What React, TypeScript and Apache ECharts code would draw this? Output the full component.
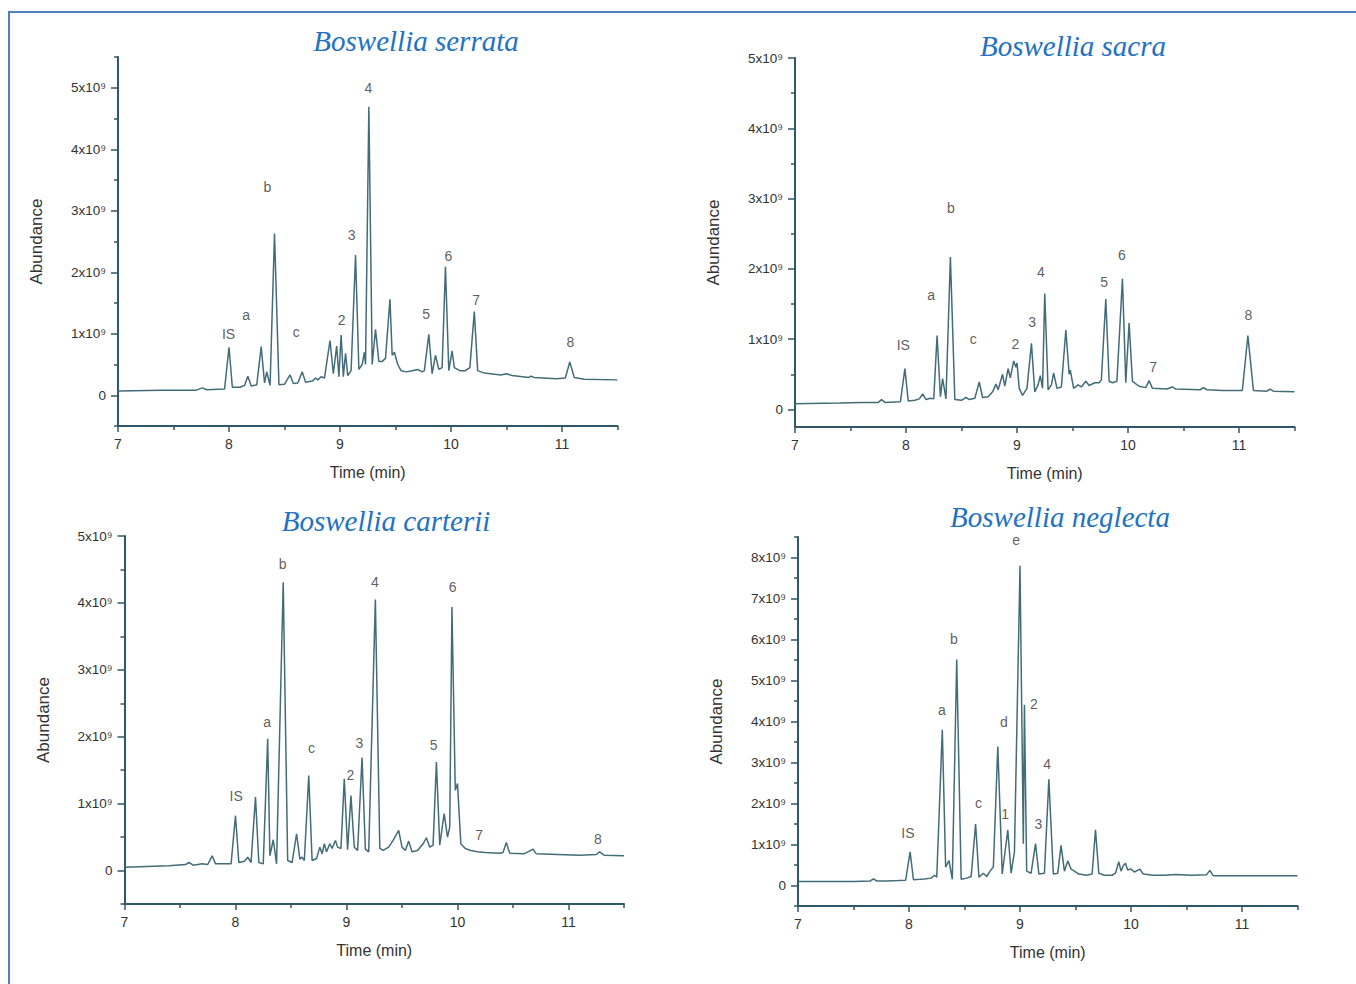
import React, { useEffect, useRef } from "react";
import * as echarts from "echarts";

// ---------- DATA (time in min, abundance in units of 10^9) ----------
const titles = ["Boswellia serrata", "Boswellia sacra", "Boswellia carterii", "Boswellia neglecta"];

const xMajor = [7, 8, 9, 10, 11];
const xMinor = [7.5, 8.5, 9.5, 10.5, 11.5];

const yMajorA = [0, 1, 2, 3, 4, 5];
const yMinorSerrata = [-0.5, 0.5, 1.5, 2.5, 3.5, 4.5, 5.5];
const yMinorSacra = [0.5, 1.5, 2.5, 3.5, 4.5];
const yMinorCarterii = [-0.5, 0.5, 1.5, 2.5, 3.5, 4.5];
const yMajorNeglecta = [0, 1, 2, 3, 4, 5, 6, 7, 8];
const yMinorNeglecta = [-0.5, 0.5, 1.5, 2.5, 3.5, 4.5, 5.5, 6.5, 7.5, 8.5];

const traceSerrata = [
  [7.0, 0.07], [7.4, 0.08], [7.7, 0.08], [7.76, 0.12], [7.8, 0.09], [7.96, 0.1], [8.0, 0.78], [8.03, 0.13],
  [8.1, 0.13], [8.14, 0.16], [8.17, 0.31], [8.2, 0.15], [8.25, 0.17], [8.29, 0.79], [8.32, 0.2], [8.34, 0.38],
  [8.37, 0.16], [8.41, 2.63], [8.45, 0.17], [8.5, 0.18], [8.55, 0.33], [8.58, 0.19], [8.62, 0.2], [8.66, 0.38],
  [8.69, 0.21], [8.75, 0.23], [8.78, 0.28], [8.8, 0.25], [8.83, 0.3], [8.86, 0.28], [8.91, 0.89], [8.94, 0.35],
  [8.97, 0.8], [8.99, 0.3], [9.01, 0.98], [9.03, 0.3], [9.05, 0.68], [9.07, 0.32], [9.1, 0.4], [9.14, 2.28],
  [9.17, 0.42], [9.2, 0.5], [9.22, 0.7], [9.23, 0.5], [9.26, 4.69], [9.29, 0.5], [9.32, 1.07], [9.35, 0.55],
  [9.38, 0.55], [9.41, 0.6], [9.45, 1.56], [9.47, 0.65], [9.49, 0.7], [9.52, 0.5], [9.55, 0.4], [9.6, 0.38],
  [9.65, 0.4], [9.7, 0.42], [9.74, 0.38], [9.76, 0.4], [9.8, 0.99], [9.83, 0.35], [9.86, 0.65], [9.89, 0.42],
  [9.92, 0.45], [9.95, 2.09], [9.98, 0.4], [10.01, 0.72], [10.03, 0.45], [10.08, 0.4], [10.13, 0.4], [10.17, 0.45],
  [10.21, 1.36], [10.24, 0.4], [10.3, 0.36], [10.45, 0.33], [10.5, 0.35], [10.55, 0.32], [10.7, 0.29], [10.72, 0.31],
  [10.75, 0.29], [10.95, 0.27], [11.03, 0.28], [11.07, 0.54], [11.11, 0.29], [11.2, 0.26], [11.5, 0.25],
];

const traceSacra = [
  [7.0, 0.08], [7.4, 0.09], [7.6, 0.1], [7.75, 0.1], [7.78, 0.14], [7.81, 0.1], [7.95, 0.11], [7.99, 0.58],
  [8.02, 0.12], [8.08, 0.13], [8.12, 0.15], [8.15, 0.22], [8.18, 0.14], [8.22, 0.16], [8.25, 0.15], [8.28, 1.05],
  [8.31, 0.18], [8.33, 0.44], [8.36, 0.15], [8.4, 2.17], [8.44, 0.14], [8.5, 0.13], [8.54, 0.17], [8.57, 0.14],
  [8.62, 0.16], [8.66, 0.39], [8.69, 0.17], [8.74, 0.18], [8.78, 0.25], [8.81, 0.36], [8.83, 0.28], [8.87, 0.5],
  [8.89, 0.33], [8.92, 0.58], [8.94, 0.45], [8.97, 0.69], [8.99, 0.6], [9.0, 0.66], [9.02, 0.3], [9.05, 0.2],
  [9.09, 0.3], [9.13, 0.94], [9.16, 0.25], [9.19, 0.35], [9.21, 0.48], [9.23, 0.3], [9.25, 1.65], [9.28, 0.28],
  [9.31, 0.35], [9.33, 0.52], [9.36, 0.3], [9.4, 0.32], [9.44, 1.13], [9.47, 0.5], [9.48, 0.56], [9.51, 0.3],
  [9.55, 0.35], [9.58, 0.32], [9.62, 0.4], [9.65, 0.34], [9.7, 0.38], [9.74, 0.38], [9.76, 0.42], [9.8, 1.57],
  [9.83, 0.4], [9.86, 0.38], [9.9, 0.4], [9.95, 1.86], [9.98, 0.38], [10.01, 1.23], [10.04, 0.4], [10.1, 0.33],
  [10.16, 0.31], [10.19, 0.41], [10.22, 0.3], [10.35, 0.29], [10.4, 0.32], [10.43, 0.29], [10.65, 0.28],
  [10.68, 0.31], [10.71, 0.28], [10.85, 0.27], [11.03, 0.27], [11.08, 1.05], [11.13, 0.27], [11.25, 0.26],
  [11.28, 0.29], [11.31, 0.26], [11.5, 0.25],
];

const traceCarterii = [
  [7.0, 0.05], [7.4, 0.07], [7.55, 0.09], [7.58, 0.12], [7.62, 0.08], [7.7, 0.1], [7.75, 0.09], [7.79, 0.22],
  [7.82, 0.1], [7.9, 0.1], [7.96, 0.1], [8.0, 0.82], [8.03, 0.12], [8.08, 0.14], [8.11, 0.2], [8.14, 0.12],
  [8.18, 1.1], [8.21, 0.12], [8.25, 0.1], [8.29, 1.97], [8.31, 0.22], [8.34, 0.46], [8.37, 0.1], [8.43, 4.31],
  [8.47, 0.15], [8.51, 0.12], [8.55, 0.55], [8.58, 0.17], [8.6, 0.2], [8.62, 0.15], [8.66, 1.42], [8.69, 0.15],
  [8.73, 0.18], [8.76, 0.35], [8.78, 0.25], [8.8, 0.4], [8.82, 0.28], [8.85, 0.4], [8.87, 0.33], [8.9, 0.45],
  [8.92, 0.35], [8.95, 0.33], [8.98, 1.37], [9.01, 0.31], [9.04, 1.12], [9.07, 0.35], [9.1, 0.3], [9.14, 1.69],
  [9.17, 0.32], [9.2, 0.28], [9.26, 4.05], [9.3, 0.33], [9.33, 0.3], [9.38, 0.35], [9.42, 0.45], [9.47, 0.6],
  [9.5, 0.35], [9.53, 0.3], [9.56, 0.44], [9.59, 0.28], [9.64, 0.3], [9.69, 0.4], [9.72, 0.49], [9.75, 0.35],
  [9.78, 0.38], [9.81, 1.62], [9.84, 0.38], [9.88, 0.85], [9.91, 0.5], [9.93, 0.65], [9.95, 3.94], [9.98, 1.2],
  [10.0, 1.3], [10.03, 0.4], [10.07, 0.33], [10.12, 0.3], [10.18, 0.28], [10.25, 0.27], [10.38, 0.26],
  [10.41, 0.27], [10.44, 0.42], [10.47, 0.26], [10.6, 0.25], [10.68, 0.32], [10.71, 0.25], [10.9, 0.24],
  [11.1, 0.23], [11.25, 0.24], [11.28, 0.28], [11.32, 0.23], [11.5, 0.22],
];

const traceNeglecta = [
  [7.0, 0.1], [7.5, 0.1], [7.65, 0.11], [7.68, 0.16], [7.71, 0.11], [7.8, 0.11], [7.9, 0.12], [7.97, 0.13],
  [8.01, 0.82], [8.04, 0.14], [8.1, 0.15], [8.14, 0.16], [8.2, 0.18], [8.23, 0.25], [8.25, 0.2], [8.3, 3.8],
  [8.33, 0.45], [8.36, 0.61], [8.39, 0.15], [8.43, 5.51], [8.47, 0.15], [8.52, 0.18], [8.56, 0.22], [8.6, 1.5],
  [8.63, 0.2], [8.67, 0.3], [8.7, 0.22], [8.73, 0.35], [8.76, 0.45], [8.8, 3.39], [8.84, 0.28], [8.89, 1.35],
  [8.92, 0.3], [8.95, 0.82], [9.0, 7.8], [9.03, 1.02], [9.04, 4.41], [9.06, 0.35], [9.1, 0.3], [9.14, 1.02],
  [9.17, 0.28], [9.22, 0.3], [9.26, 2.59], [9.3, 0.28], [9.34, 0.3], [9.37, 0.98], [9.4, 0.35], [9.43, 0.6],
  [9.46, 0.4], [9.49, 0.35], [9.53, 0.28], [9.6, 0.25], [9.65, 0.28], [9.68, 1.36], [9.71, 0.3], [9.76, 0.25],
  [9.83, 0.25], [9.86, 0.3], [9.89, 0.58], [9.91, 0.35], [9.93, 0.48], [9.95, 0.54], [9.97, 0.38], [10.0, 0.4],
  [10.03, 0.33], [10.08, 0.4], [10.11, 0.28], [10.2, 0.25], [10.3, 0.25], [10.4, 0.27], [10.55, 0.25],
  [10.68, 0.26], [10.71, 0.37], [10.74, 0.24], [11.0, 0.24], [11.5, 0.24],
];

// peak labels: [text, time, abundance position]
const labelsSerrata = [
  ["IS", 8.0, 0.99], ["a", 8.16, 1.3], ["b", 8.35, 3.37], ["c", 8.61, 1.02], ["2", 9.02, 1.22], ["3", 9.11, 2.59],
  ["4", 9.26, 4.99], ["5", 9.78, 1.32], ["6", 9.98, 2.26], ["7", 10.23, 1.54], ["8", 11.08, 0.85],
];
const labelsSacra = [
  ["IS", 7.98, 0.91], ["a", 8.23, 1.62], ["b", 8.41, 2.86], ["c", 8.61, 1.0], ["2", 8.99, 0.93], ["3", 9.14, 1.24],
  ["4", 9.22, 1.95], ["5", 9.79, 1.8], ["6", 9.95, 2.19], ["7", 10.23, 0.6], ["8", 11.09, 1.34],
];
const labelsCarterii = [
  ["IS", 8.01, 1.1], ["a", 8.29, 2.21], ["b", 8.43, 4.58], ["c", 8.69, 1.82], ["2", 9.04, 1.42], ["3", 9.12, 1.9],
  ["4", 9.26, 4.31], ["5", 9.79, 1.87], ["6", 9.96, 4.23], ["7", 10.2, 0.52], ["8", 11.27, 0.47],
];
const labelsNeglecta = [
  ["IS", 7.995, 1.27], ["a", 8.3, 4.27], ["b", 8.41, 6.0], ["c", 8.63, 2.0], ["d", 8.86, 3.98], ["1", 8.87, 1.73],
  ["e", 8.97, 8.41], ["2", 9.13, 4.41], ["3", 9.17, 1.5], ["4", 9.25, 2.94],
];

// ---------- LAYOUT / STYLE ----------
const panels = [
  { trace: traceSerrata, labels: labelsSerrata, yMin: -0.5, yMax: 5.5, yMajor: yMajorA, yMinor: yMinorSerrata,
    grid: { left: 118, top: 57, width: 499.5, height: 369 }, title: [416, 41] },
  { trace: traceSacra, labels: labelsSacra, yMin: -0.25, yMax: 5, yMajor: yMajorA, yMinor: yMinorSacra,
    grid: { left: 795, top: 58, width: 499.5, height: 369 }, title: [1073, 46] },
  { trace: traceCarterii, labels: labelsCarterii, yMin: -0.5, yMax: 5, yMajor: yMajorA, yMinor: yMinorCarterii,
    grid: { left: 124.5, top: 536, width: 499.5, height: 368 }, title: [386, 521] },
  { trace: traceNeglecta, labels: labelsNeglecta, yMin: -0.5, yMax: 8.5, yMajor: yMajorNeglecta, yMinor: yMinorNeglecta,
    grid: { left: 798, top: 537, width: 499.5, height: 369 }, title: [1060, 517] },
];

const AXIS = "#2f5868";
const TRACE = "#436c79";
const TXT = "#333333";
const SANS = "Liberation Sans, Arial, sans-serif";

export default function App() {
  const ref = useRef<HTMLDivElement>(null);
  useEffect(() => {
    document.body.style.margin = "0";
    const chart = echarts.init(ref.current!, undefined, { renderer: "svg" });
    const grid: any[] = [];
    const xAxis: any[] = [];
    const yAxis: any[] = [];
    const series: any[] = [];
    const graphic: any[] = [];
    panels.forEach((p, i) => {
      grid.push({ ...p.grid, containLabel: false, outerBoundsMode: "none" });
      const xBase = {
        type: "value", gridIndex: i, min: 7, max: 11.5, position: "bottom",
        splitLine: { show: false },
        axisLine: { onZero: false, lineStyle: { color: AXIS, width: 2 } },
      };
      xAxis.push({
        ...xBase,
        name: "Time (min)", nameLocation: "middle", nameGap: 38,
        nameTextStyle: { fontFamily: SANS, fontSize: 16, color: TXT },
        axisTick: { show: true, customValues: xMajor, length: 6, lineStyle: { color: AXIS, width: 1.5 } },
        axisLabel: { customValues: xMajor, margin: 11, fontFamily: SANS, fontSize: 14, color: TXT },
      });
      xAxis.push({
        ...xBase,
        axisLine: { show: false, onZero: false },
        axisTick: { show: true, customValues: xMinor, length: 4, lineStyle: { color: AXIS, width: 1.5 } },
        axisLabel: { show: false },
      });
      const yBase = {
        type: "value", gridIndex: i, min: p.yMin, max: p.yMax, position: "left",
        splitLine: { show: false },
        axisLine: { show: true, onZero: false, lineStyle: { color: AXIS, width: 2 } },
      };
      yAxis.push({
        ...yBase,
        name: "Abundance", nameLocation: "middle", nameGap: 73,
        nameTextStyle: { fontFamily: SANS, fontSize: 17, color: TXT },
        axisTick: { show: true, customValues: p.yMajor, length: 7, lineStyle: { color: AXIS, width: 1.5 } },
        axisLabel: {
          customValues: p.yMajor, margin: 12, fontFamily: SANS, fontSize: 13.5, color: TXT,
          formatter: (v: number) => (v === 0 ? "0" : `${v}x10⁹`),
        },
      });
      yAxis.push({
        ...yBase,
        axisLine: { show: false, onZero: false },
        axisTick: { show: true, customValues: p.yMinor, length: 4, lineStyle: { color: AXIS, width: 1.5 } },
        axisLabel: { show: false },
      });
      series.push({
        type: "line", xAxisIndex: 2 * i, yAxisIndex: 2 * i, data: p.trace,
        showSymbol: false, symbol: "none", silent: true,
        lineStyle: { color: TRACE, width: 1.5 },
      });
      series.push({
        type: "scatter", xAxisIndex: 2 * i, yAxisIndex: 2 * i, symbolSize: 1, silent: true,
        itemStyle: { color: "rgba(0,0,0,0)" },
        data: p.labels.map((l) => ({ name: l[0], value: [l[1], l[2]] })),
        label: {
          show: true, position: [0, 0], align: "center", verticalAlign: "middle",
          formatter: (q: any) => q.name,
          fontFamily: SANS, fontSize: 14, color: TXT,
        },
      });
      graphic.push({
        type: "text", x: p.title[0], y: p.title[1],
        style: {
          text: titles[i], fill: "#2272c3", font: 'italic 29px "Liberation Serif", serif',
          align: "center", verticalAlign: "middle", textAlign: "center", textVerticalAlign: "middle",
        },
      });
    });
    graphic.push({ type: "line", shape: { x1: 8, y1: 12, x2: 1356, y2: 12 }, style: { stroke: "#4f81bd", lineWidth: 2 } });
    graphic.push({ type: "line", shape: { x1: 9, y1: 12, x2: 9, y2: 984 }, style: { stroke: "#4f81bd", lineWidth: 2 } });

    chart.setOption({
      animation: false,
      backgroundColor: "#ffffff",
      grid, xAxis, yAxis, series, graphic,
    });
    return () => chart.dispose();
  }, []);
  return <div ref={ref} style={{ position: "absolute", left: 0, top: 0, width: 1356, height: 984 }} />;
}
